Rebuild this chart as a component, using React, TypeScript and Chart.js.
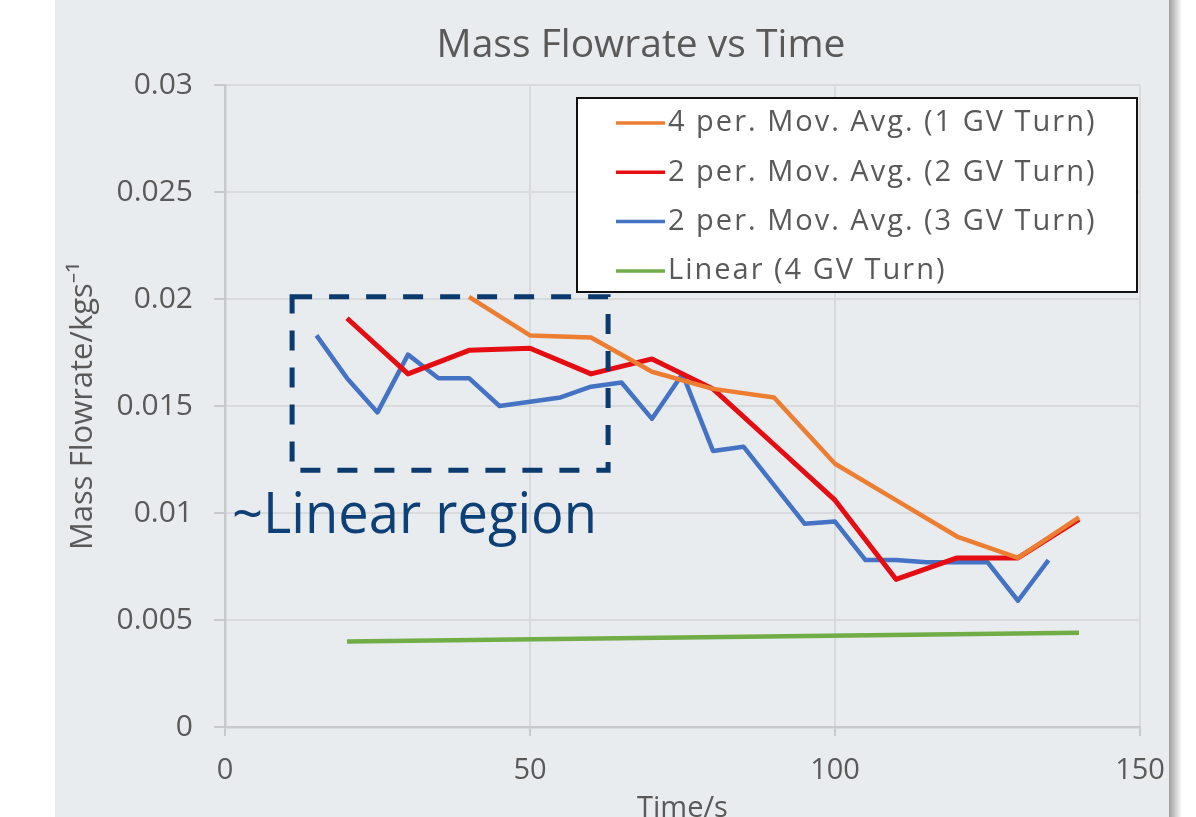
import React, { useEffect, useRef } from 'react';
import { Chart, registerables } from 'chart.js';

Chart.register(...registerables);

const TITLE = 'Mass Flowrate vs Time';
const X_TITLE = 'Time/s';
const Y_TITLE = 'Mass Flowrate/kgs⁻¹';

const SERIES_LABELS = [
  '4 per. Mov. Avg. (1 GV Turn)',
  '2 per. Mov. Avg. (2 GV Turn)',
  '2 per. Mov. Avg. (3 GV Turn)',
  'Linear (4 GV Turn)',
];
const SERIES_COLORS = ['#ED7D31', '#E50D12', '#4472C4', '#70AD47'];

const TIME_1GV = [40, 50, 60, 70, 80, 90, 100, 110, 120, 130, 140];
const FLOW_1GV = [0.0201, 0.0183, 0.0182, 0.0166, 0.0158, 0.0154, 0.0123, 0.0106, 0.0089, 0.0079, 0.0098];

const TIME_2GV = [20, 30, 40, 50, 60, 70, 80, 90, 100, 110, 120, 130, 140];
const FLOW_2GV = [0.0191, 0.0165, 0.0176, 0.0177, 0.0165, 0.0172, 0.0158, 0.0132, 0.0106, 0.0069, 0.0079, 0.0079, 0.0097];

const TIME_3GV = [15, 20, 25, 30, 35, 40, 45, 50, 55, 60, 65, 70, 75, 80, 85, 90, 95, 100, 105, 110, 115, 120, 125, 130, 135];
const FLOW_3GV = [0.0183, 0.0163, 0.0147, 0.0174, 0.0163, 0.0163, 0.0150, 0.0152, 0.0154, 0.0159, 0.0161, 0.0144, 0.0165, 0.0129, 0.0131, 0.0113, 0.0095, 0.0096, 0.0078, 0.0078, 0.0077, 0.0077, 0.0077, 0.0059, 0.0078];

const TIME_4GV = [20, 140];
const FLOW_4GV = [0.0040, 0.0044];

const X_TICKS = [0, 50, 100, 150];
const X_TICK_LABELS = ['0', '50', '100', '150'];
const Y_TICKS = [0, 0.005, 0.01, 0.015, 0.02, 0.025, 0.03];
const Y_TICK_LABELS = ['0', '0.005', '0.01', '0.015', '0.02', '0.025', '0.03'];

const REGION_X = [11, 62.8];
const REGION_Y = [0.012, 0.0201];
const REGION_LABEL = '~Linear region';
const REGION_LABEL_AT = [1.15, 0.00907];

const FONT = "'Open Sans', 'Noto Sans', sans-serif";
const TEXT_COLOR = '#595959';
const NAVY = '#0b3b6e';

const toPoints = (xs: number[], ys: number[]) => xs.map((x, i) => ({ x, y: ys[i] }));

const panelPlugin = {
  id: 'panelBg',
  beforeDraw(chart: any) {
    const { ctx, width, height } = chart;
    ctx.save();
    ctx.fillStyle = '#ffffff';
    ctx.fillRect(0, 0, width, height);
    ctx.fillStyle = '#e9ecee';
    ctx.fillRect(55, 0, 1114, height);
    const g = ctx.createLinearGradient(1169, 0, 1182, 0);
    g.addColorStop(0, 'rgba(0,0,0,0.38)');
    g.addColorStop(1, 'rgba(0,0,0,0)');
    ctx.fillStyle = g;
    ctx.fillRect(1169, 0, 13, height);
    // chart title
    ctx.font = `39px ${FONT}`;
    ctx.fillStyle = TEXT_COLOR;
    ctx.textAlign = 'center';
    ctx.textBaseline = 'alphabetic';
    ctx.fillText(TITLE, 641, 57);
    ctx.restore();
  },
};

const overlayPlugin = {
  id: 'overlay',
  afterDraw(chart: any) {
    const { ctx, chartArea, scales } = chart;
    const xs = scales.x;
    const ys = scales.y;
    ctx.save();
    // dashed region box
    const x0 = xs.getPixelForValue(REGION_X[0]);
    const x1 = xs.getPixelForValue(REGION_X[1]);
    const y0 = ys.getPixelForValue(REGION_Y[1]);
    const y1 = ys.getPixelForValue(REGION_Y[0]);
    ctx.strokeStyle = NAVY;
    ctx.lineWidth = 5;
    ctx.setLineDash([20, 17]);
    ctx.strokeRect(x0, y0, x1 - x0, y1 - y0);
    ctx.setLineDash([]);

    // region label
    const lx = xs.getPixelForValue(REGION_LABEL_AT[0]);
    const ly = ys.getPixelForValue(REGION_LABEL_AT[1]);
    ctx.font = `56px ${FONT}`;
    ctx.fillStyle = '#0d4077';
    ctx.textBaseline = 'alphabetic';
    ctx.textAlign = 'left';
    const w = ctx.measureText(REGION_LABEL).width;
    ctx.save();
    ctx.translate(lx, ly);
    ctx.scale(365 / w, 1);
    ctx.fillText(REGION_LABEL, 0, 0);
    ctx.restore();

    // legend
    const bx = chartArea.left + 352;
    const by = chartArea.top + 13;
    const bw = 560;
    const bh = 194;
    ctx.fillStyle = '#ffffff';
    ctx.fillRect(bx, by, bw, bh);
    ctx.strokeStyle = '#111111';
    ctx.lineWidth = 2;
    ctx.strokeRect(bx, by, bw, bh);
    ctx.font = `29px ${FONT}`;
    ctx.textBaseline = 'middle';
    ctx.textAlign = 'left';
    (ctx as any).letterSpacing = '2px';
    chart.data.datasets.forEach((ds: any, i: number) => {
      const cy = by + 25 + i * 49.3;
      ctx.strokeStyle = ds.borderColor;
      ctx.lineWidth = 3.5;
      ctx.beginPath();
      ctx.moveTo(bx + 39, cy);
      ctx.lineTo(bx + 88, cy);
      ctx.stroke();
      ctx.fillStyle = TEXT_COLOR;
      ctx.fillText(ds.label, bx + 91, cy);
    });
    (ctx as any).letterSpacing = '0px';
    ctx.restore();
  },
};

export default function App() {
  const ref = useRef<HTMLCanvasElement | null>(null);

  useEffect(() => {
    document.body.style.margin = '0';
    const canvas = ref.current;
    if (!canvas) return;
    const seriesX = [TIME_1GV, TIME_2GV, TIME_3GV, TIME_4GV];
    const seriesY = [FLOW_1GV, FLOW_2GV, FLOW_3GV, FLOW_4GV];
    const chart = new Chart(canvas, {
      type: 'line',
      data: {
        datasets: SERIES_LABELS.map((label, i) => ({
          label,
          data: toPoints(seriesX[i], seriesY[i]),
          borderColor: SERIES_COLORS[i],
          backgroundColor: SERIES_COLORS[i],
          borderWidth: i === 1 ? 5 : 4.5,
          pointRadius: 0,
          tension: 0,
          fill: false,
          borderJoinStyle: 'round',
        })),
      },
      options: {
        animation: false,
        responsive: false,
        devicePixelRatio: 1,
        layout: { padding: { left: 55, right: 56, top: 85, bottom: 0 } },
        plugins: {
          legend: { display: false },
          tooltip: { enabled: false },
          title: { display: false },
        },
        scales: {
          x: {
            type: 'linear',
            min: 0,
            max: 150,
            afterFit: (s: any) => { s.height = 840 - 727; },
            afterBuildTicks: (s: any) => { s.ticks = X_TICKS.map((v) => ({ value: v })); },
            ticks: {
              color: TEXT_COLOR,
              font: { family: FONT, size: 29 },
              padding: 17,
              maxRotation: 0,
              callback: (_v: any, i: number) => X_TICK_LABELS[i],
            },
            grid: { color: '#d9dadb', lineWidth: 2, tickLength: 9, tickColor: '#c8c9ca' },
            border: { color: '#c8c9ca', width: 2.5 },
            title: {
              display: true,
              text: X_TITLE,
              color: TEXT_COLOR,
              font: { family: FONT, size: 29 },
              padding: { top: 0, bottom: 14 },
            },
          },
          y: {
            type: 'linear',
            min: 0,
            max: 0.03,
            afterFit: (s: any) => { s.width = 225 - 55; },
            afterBuildTicks: (s: any) => { s.ticks = Y_TICKS.map((v) => ({ value: v })); },
            ticks: {
              color: TEXT_COLOR,
              font: { family: FONT, size: 30 },
              padding: 21,
              callback: (_v: any, i: number) => Y_TICK_LABELS[i],
            },
            grid: { color: '#d9dadb', lineWidth: 2, tickLength: 11, tickColor: '#c8c9ca' },
            border: { color: '#c8c9ca', width: 2.5 },
            title: {
              display: true,
              text: Y_TITLE,
              color: TEXT_COLOR,
              font: { family: FONT, size: 31 },
              padding: { top: 10, bottom: 0 },
            },
          },
        },
      },
      plugins: [panelPlugin, overlayPlugin],
    } as any);
    return () => chart.destroy();
  }, []);

  return (
    <div style={{ position: 'fixed', left: 0, top: 0, width: 1196, height: 817, overflow: 'hidden' }}>
      <canvas ref={ref} width={1196} height={840} style={{ display: 'block' }} />
    </div>
  );
}
